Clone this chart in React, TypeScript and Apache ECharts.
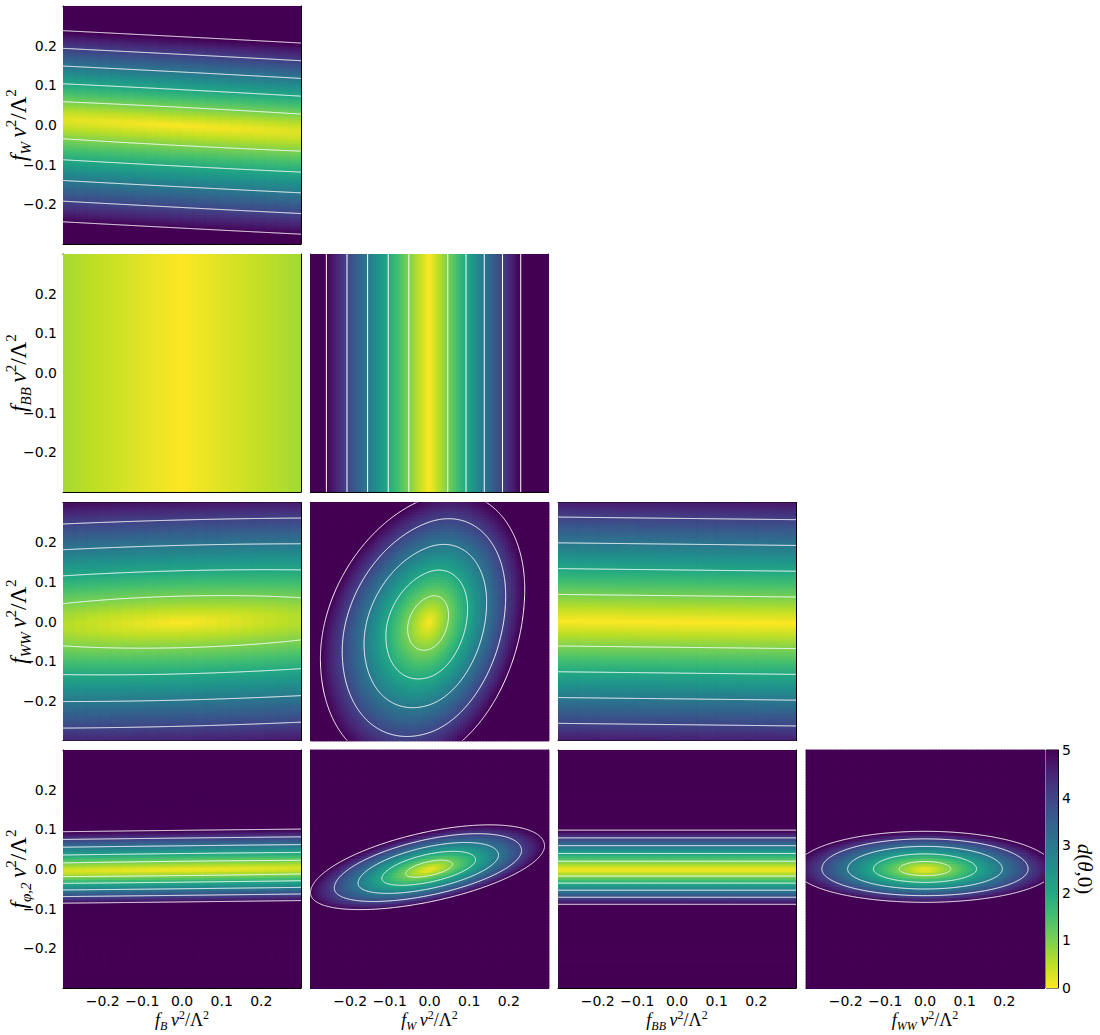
import React, { useEffect, useRef } from "react";
import * as echarts from "echarts";

// ---- axis setup ----
const AXIS_MIN = -0.3;
const AXIS_MAX = 0.3;
const TICK_STEP = 0.1;
const D_MAX = 5;
const CONTOUR_LEVELS = [1, 2, 3, 4, 5];

// coefficient subscripts (x of column c = COEF_SUBS[c], y of row r = COEF_SUBS[r + 1])
const COEF_SUBS = ["B", "W", "BB", "WW", "φ,2"];

// ---- panels: r1c1, r2c1, r2c2, r3c1, r3c2, r3c3, r4c1, r4c2, r4c3, r4c4 ----
const PANEL_ROW = [0, 1, 1, 2, 2, 2, 3, 3, 3, 3];
const PANEL_COL = [0, 0, 1, 0, 1, 2, 0, 1, 2, 3];
const CENTER_X = [0, 0, 0, 0, 0, 0, 0, 0, 0, 0];
const CENTER_Y = [0, 0, 0, 0, 0, 0, 0, 0, 0, 0];
const SIGMA_X_NEG = [1.2, 0.45, 0.052, 0.52, 0.055, null, 1.0, 0.06, null, 0.065];
const SIGMA_X_POS = [1.2, 0.43, 0.046, 0.52, 0.048, null, 1.0, 0.058, null, 0.065];
const SIGMA_Y_NEG = [0.052, null, null, 0.066, 0.07, 0.065, 0.0166, 0.0166, 0.0178, 0.0168];
const SIGMA_Y_POS = [0.0445, null, null, 0.064, 0.0627, 0.065, 0.0195, 0.019, 0.0196, 0.019];
const RIDGE_SLOPE = [-0.052, 0, 0, 0.025, 0.34, -0.011, 0.011, 0.2, 0, 0];

// reversed viridis: d = 0 -> yellow, d = 5 -> dark purple
const VIRIDIS_R = [
  "#fde725", "#bddf26", "#7ad151", "#44bf70", "#22a884", "#21918c",
  "#2a788e", "#355f8d", "#414487", "#482475", "#440154",
];

// layout
const GRID_LEFTS = [63, 310.5, 558, 806];
const GRID_TOPS = [6, 254, 502.5, 750];
const GRID_SIZE = 238;

function dist(i: number, x: number, y: number): number {
  const dx = x - CENTER_X[i];
  const sx = dx < 0 ? SIGMA_X_NEG[i] : SIGMA_X_POS[i];
  const u = sx == null ? 0 : dx / sx;
  const r = y - CENTER_Y[i] - RIDGE_SLOPE[i] * dx;
  const sy = r < 0 ? SIGMA_Y_NEG[i] : SIGMA_Y_POS[i];
  const v = sy == null ? 0 : r / sy;
  return Math.sqrt(u * u + v * v);
}

function cellData(i: number): number[][] {
  const sx = SIGMA_X_NEG[i];
  const sy = SIGMA_Y_NEG[i];
  const nx = sx == null ? (RIDGE_SLOPE[i] ? 12 : 1) : sy == null ? 120 : sx >= 0.4 ? 20 : 84;
  const ny = sy == null ? 1 : sx == null ? 120 : sx >= 0.4 ? 120 : 84;
  const span = AXIS_MAX - AXIS_MIN;
  const out: number[][] = [];
  for (let a = 0; a < nx; a++) {
    const x0 = AXIS_MIN + (span * a) / nx;
    const x1 = AXIS_MIN + (span * (a + 1)) / nx;
    for (let b = 0; b < ny; b++) {
      const y0 = AXIS_MIN + (span * b) / ny;
      const y1 = AXIS_MIN + (span * (b + 1)) / ny;
      const d = Math.min(D_MAX, dist(i, (x0 + x1) / 2, (y0 + y1) / 2));
      out.push([x0, y0, x1, y1, d]);
    }
  }
  return out;
}

function contourLines(i: number, L: number): number[][][] {
  const mx = CENTER_X[i], my = CENTER_Y[i], k = RIDGE_SLOPE[i];
  const sxm = SIGMA_X_NEG[i], sxp = SIGMA_X_POS[i];
  const sym = SIGMA_Y_NEG[i], syp = SIGMA_Y_POS[i];
  const N = 400;
  const lines: number[][][] = [];
  if (sym == null || syp == null) {
    if (sxm == null || sxp == null) return lines;
    for (const xv of [mx - sxm * L, mx + sxp * L]) {
      if (xv > AXIS_MIN && xv < AXIS_MAX) lines.push([[xv, AXIS_MIN], [xv, AXIS_MAX]]);
    }
    return lines;
  }
  for (const sgn of [1, -1]) {
    const sy = sgn > 0 ? syp : sym;
    const pts: number[][] = [];
    if (sxm == null || sxp == null) {
      for (let j = 0; j <= N; j++) {
        const x = AXIS_MIN + ((AXIS_MAX - AXIS_MIN) * j) / N;
        pts.push([x, my + k * (x - mx) + sgn * sy * L]);
      }
    } else {
      const uLo = Math.max(-L, (AXIS_MIN - mx) / sxm);
      const uHi = Math.min(L, (AXIS_MAX - mx) / sxp);
      if (uLo >= uHi) continue;
      const t0 = Math.acos(uHi / L);
      const t1 = Math.acos(uLo / L);
      for (let j = 0; j <= N; j++) {
        const t = t0 + ((t1 - t0) * j) / N;
        const u = L * Math.cos(t);
        const v = sgn * L * Math.sin(t);
        const x = mx + u * (u < 0 ? sxm : sxp);
        const y = my + k * (x - mx) + v * sy;
        pts.push([x, y]);
      }
    }
    lines.push(pts);
  }
  return lines;
}

function richSet(main: number) {
  const sub = Math.round(main * 0.66);
  const lh = Math.round(main * 1.3);
  return {
    f: { fontFamily: "Liberation Serif", fontStyle: "italic", fontSize: main, lineHeight: lh, color: "#000" },
    s: { fontFamily: "Liberation Serif", fontStyle: "italic", fontSize: sub, lineHeight: Math.round(sub * 1.15), verticalAlign: "bottom", color: "#000" },
    i: { fontFamily: "Liberation Serif", fontStyle: "italic", fontSize: main, lineHeight: lh, color: "#000" },
    r: { fontFamily: "Liberation Serif", fontSize: main, lineHeight: lh, color: "#000" },
    p: { fontFamily: "Liberation Serif", fontSize: sub, lineHeight: Math.round(sub * 0.9), verticalAlign: "top", color: "#000" },
  };
}
const RICH_X = richSet(18);
const RICH_Y = richSet(23);
const RICH_CB = richSet(21);

const mathName = (sub: string) => `{f|f}{s|${sub}}{i|\u2009v}{p|2}{r|/Λ}{p|2}`;

const fmtTick = (v: number) => {
  if (Math.abs(v) > 0.25) return "";
  const a = Math.abs(v) < 1e-9 ? 0 : v;
  return (a < 0 ? "\u2212" : "") + Math.abs(a).toFixed(1);
};

function buildOption() {
  const grid: any[] = [];
  const xAxis: any[] = [];
  const yAxis: any[] = [];
  const series: any[] = [];
  const heatIdx: number[] = [];
  const lineStyle = { color: "#000", width: 1 };
  const tickStyle = { show: true, inside: true, length: 4, lineStyle: { color: "#000", width: 1 } };
  const labelStyle = { color: "#000", fontSize: 14, fontFamily: "DejaVu Sans" };

  PANEL_ROW.forEach((row, i) => {
    const col = PANEL_COL[i];
    grid.push({
      left: GRID_LEFTS[col], top: GRID_TOPS[row], width: GRID_SIZE, height: GRID_SIZE,
      containLabel: false, outerBoundsMode: "none",
    });
    const common = { gridIndex: i, type: "value", min: AXIS_MIN, max: AXIS_MAX, interval: TICK_STEP, splitLine: { show: false }, axisLine: { show: true, onZero: false, lineStyle }, axisTick: tickStyle };
    xAxis.push({
      ...common, position: "bottom",
      axisLabel: { show: row === 3, formatter: fmtTick, margin: 6, ...labelStyle },
      name: row === 3 ? mathName(COEF_SUBS[col]) : "", nameLocation: "middle", nameGap: 20,
      nameTextStyle: { rich: RICH_X },
    });
    xAxis.push({ ...common, position: "top", axisLabel: { show: false } });
    yAxis.push({
      ...common, position: "left",
      axisLabel: { show: col === 0, formatter: fmtTick, margin: 6, ...labelStyle },
      name: col === 0 ? mathName(COEF_SUBS[row + 1]) : "", nameLocation: "middle", nameGap: 30, nameRotate: 90,
      nameMoveOverlap: false,
      nameTextStyle: { rich: RICH_Y },
    });
    yAxis.push({ ...common, position: "right", axisLabel: { show: false } });

    heatIdx.push(series.length);
    series.push({
      type: "custom", xAxisIndex: 2 * i, yAxisIndex: 2 * i, clip: true, z: 1, silent: true,
      data: cellData(i), encode: { x: [0, 2], y: [1, 3] },
      renderItem: (_p: any, api: any) => {
        const p0 = api.coord([api.value(0), api.value(3)]);
        const p1 = api.coord([api.value(2), api.value(1)]);
        const c = api.visual("color");
        return {
          type: "rect",
          shape: { x: p0[0], y: p0[1], width: p1[0] - p0[0] + 0.5, height: p1[1] - p0[1] + 0.5 },
          style: { fill: c, stroke: c, lineWidth: 0.8 },
        };
      },
    });
    series.push({
      type: "custom", xAxisIndex: 2 * i, yAxisIndex: 2 * i, clip: true, z: 3, silent: true,
      data: CONTOUR_LEVELS.map((L) => [0, 0, L]), encode: { x: 0, y: 1 },
      renderItem: (_p: any, api: any) => {
        const L = api.value(2);
        const lines = contourLines(i, L);
        return {
          type: "group",
          children: lines.map((pts) => ({
            type: "polyline",
            shape: { points: pts.map((p) => api.coord(p)) },
            style: { stroke: "#ffffff", lineWidth: 1, fill: "none" },
          })),
        };
      },
    });
  });

  // colorbar
  const cb = PANEL_ROW.length;
  grid.push({
    left: 1046, top: 750, width: 12, height: GRID_SIZE, show: true, borderColor: "#000", borderWidth: 1,
    containLabel: false, outerBoundsMode: "none",
  });
  xAxis.push({ gridIndex: cb, type: "value", min: 0, max: 1, show: false });
  yAxis.push({
    gridIndex: cb, type: "value", position: "right", min: 0, max: D_MAX, interval: 1,
    splitLine: { show: false }, axisLine: { show: true, onZero: false, lineStyle }, axisTick: { show: false },
    axisLabel: { margin: 4, ...labelStyle },
    name: "{i|d}{r|(}{i|θ}{r|,0)}", nameLocation: "middle", nameRotate: -90, nameGap: 12,
    nameTextStyle: { rich: RICH_CB },
  });
  series.push({
    type: "custom", xAxisIndex: 2 * cb, yAxisIndex: cb * 2, silent: true, z: 1,
    data: [[0, 0, 1, D_MAX]], encode: { x: [0, 2], y: [1, 3] },
    renderItem: (_p: any, api: any) => {
      const p0 = api.coord([api.value(0), api.value(3)]);
      const p1 = api.coord([api.value(2), api.value(1)]);
      return {
        type: "rect",
        shape: { x: p0[0], y: p0[1], width: p1[0] - p0[0], height: p1[1] - p0[1] },
        style: {
          fill: {
            type: "linear", x: 0, y: 1, x2: 0, y2: 0,
            colorStops: VIRIDIS_R.map((c, j) => ({ offset: j / (VIRIDIS_R.length - 1), color: c })),
          },
        },
      };
    },
  });

  return {
    animation: false,
    backgroundColor: "#ffffff",
    grid, xAxis, yAxis, series,
    visualMap: {
      type: "continuous", show: false, min: 0, max: D_MAX, dimension: 4,
      seriesIndex: heatIdx, inRange: { color: VIRIDIS_R },
    },
  };
}

export default function App() {
  const ref = useRef<HTMLDivElement>(null);
  useEffect(() => {
    if (!ref.current) return;
    const chart = echarts.init(ref.current, undefined, { renderer: "svg" });
    chart.setOption(buildOption() as any);
    return () => chart.dispose();
  }, []);
  return <div ref={ref} style={{ position: "fixed", left: 0, top: 0, width: 1100, height: 1035, background: "#fff" }} />;
}
